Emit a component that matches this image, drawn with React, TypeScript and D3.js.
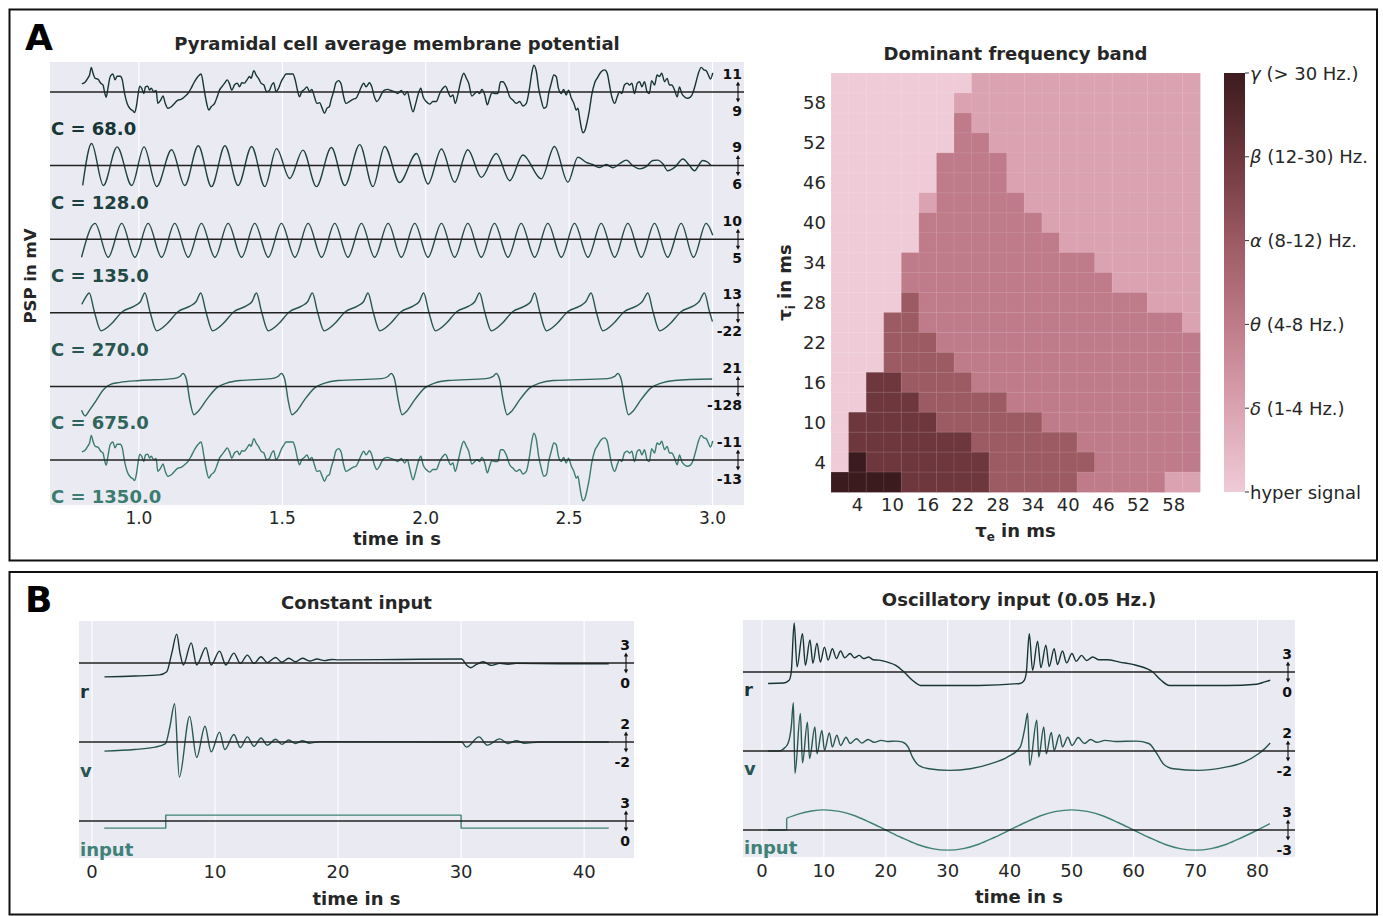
import React from 'react';
import * as d3 from 'd3';

type Pt = [number, number];

const FONT = "'DejaVu Sans', sans-serif";
const INK = '#262626';
const BG = '#eaeaf2';

// ---------------- Panel A, left: membrane potential traces ----------------
// time in s, amplitude in lane units (1 = half the distance between two lanes)
const aTicks = [1.0, 1.5, 2.0, 2.5, 3.0];
const aLaneNames = ['C = 68.0', 'C = 128.0', 'C = 135.0', 'C = 270.0', 'C = 675.0', 'C = 1350.0'];
const aLaneRanges = [['11', '9'], ['9', '6'], ['10', '5'], ['13', '-22'], ['21', '-128'], ['-11', '-13']];
const aLaneColors = ['#173535', '#1d4040', '#224a47', '#285650', '#2f655c', '#3b7c71'];

const noisyTrace: Pt[] = [
  [0.801,0.22],[0.813,0.27],[0.822,0.38],[0.828,0.46],[0.834,0.67],[0.840,0.51],[0.848,0.37],[0.857,0.35],[0.867,0.24],[0.875,0.19],
  [0.880,0.01],[0.886,-0.14],[0.892,0.10],[0.900,0.42],[0.909,0.49],[0.917,0.33],[0.924,0.43],[0.935,0.43],[0.942,0.33],[0.950,-0.04],
  [0.959,-0.31],[0.971,-0.47],[0.979,-0.51],[0.985,-0.56],[0.991,-0.40],[0.997,-0.08],[1.003,0.16],[1.010,0.10],[1.017,-0.04],[1.023,0.14],
  [1.031,0.16],[1.037,0.05],[1.043,0.10],[1.052,0.01],[1.060,0.04],[1.066,-0.31],[1.076,-0.22],[1.084,-0.11],[1.092,-0.31],[1.101,-0.44],
  [1.113,-0.40],[1.124,-0.31],[1.136,-0.22],[1.147,-0.20],[1.159,-0.13],[1.171,-0.04],[1.182,0.10],[1.194,0.28],[1.206,0.42],[1.217,0.49],
  [1.226,0.14],[1.234,-0.22],[1.244,-0.49],[1.252,-0.40],[1.264,-0.31],[1.273,-0.13],[1.281,0.05],[1.289,0.14],[1.299,0.24],[1.308,0.33],
  [1.316,0.22],[1.324,0.05],[1.333,0.19],[1.343,0.24],[1.351,0.14],[1.359,0.25],[1.368,0.24],[1.377,0.33],[1.386,0.42],[1.391,0.37],
  [1.401,0.58],[1.409,0.46],[1.417,0.37],[1.426,0.24],[1.436,0.19],[1.445,0.01],[1.455,0.04],[1.463,0.19],[1.470,0.25],[1.478,0.01],
  [1.487,0.10],[1.496,0.28],[1.505,0.40],[1.513,0.49],[1.525,0.49],[1.537,0.49],[1.545,0.33],[1.554,0.01],[1.560,-0.13],[1.568,0.01],
  [1.577,0.07],[1.586,0.14],[1.595,0.01],[1.603,0.07],[1.612,-0.13],[1.621,-0.31],[1.630,-0.29],[1.639,-0.44],[1.647,-0.58],[1.656,-0.44],
  [1.664,-0.40],[1.670,-0.22],[1.679,0.01],[1.687,0.25],[1.696,0.31],[1.705,0.22],[1.714,-0.13],[1.722,-0.31],[1.734,-0.26],[1.746,-0.20],
  [1.757,-0.17],[1.766,-0.04],[1.775,0.13],[1.784,0.24],[1.792,0.14],[1.804,0.25],[1.812,0.14],[1.821,-0.13],[1.830,-0.26],[1.839,-0.17],
  [1.847,-0.04],[1.856,0.05],[1.868,0.07],[1.879,0.04],[1.891,0.01],[1.902,-0.04],[1.915,0.04],[1.927,-0.08],[1.936,0.01],[1.944,-0.22],
  [1.956,-0.54],[1.964,-0.35],[1.973,-0.08],[1.983,0.10],[1.991,-0.13],[2.002,-0.26],[2.014,-0.33],[2.025,-0.26],[2.037,-0.26],[2.049,-0.04],
  [2.060,0.10],[2.069,0.16],[2.078,0.01],[2.087,-0.13],[2.095,-0.08],[2.103,-0.31],[2.113,-0.04],[2.122,0.28],[2.133,0.51],[2.142,0.37],
  [2.150,0.24],[2.161,-0.11],[2.171,-0.04],[2.180,0.01],[2.188,-0.04],[2.196,0.07],[2.206,-0.08],[2.215,-0.35],[2.223,-0.17],[2.231,-0.02],
  [2.240,-0.04],[2.252,-0.04],[2.261,0.28],[2.269,0.28],[2.281,0.14],[2.293,-0.13],[2.304,-0.22],[2.316,-0.31],[2.328,-0.26],[2.339,-0.38],
  [2.351,-0.31],[2.362,0.10],[2.370,0.51],[2.377,0.73],[2.386,0.55],[2.394,0.10],[2.403,-0.22],[2.412,-0.44],[2.421,-0.40],[2.429,-0.04],
  [2.438,0.24],[2.447,0.46],[2.455,0.42],[2.463,0.10],[2.473,-0.04],[2.481,0.07],[2.490,-0.08],[2.498,0.05],[2.508,-0.17],[2.517,-0.31],
  [2.525,-0.49],[2.531,-0.44],[2.537,-0.71],[2.542,-0.94],[2.548,-1.11],[2.556,-1.03],[2.563,-0.81],[2.571,-0.49],[2.579,-0.08],[2.589,0.24],
  [2.600,0.40],[2.612,0.55],[2.624,0.60],[2.633,0.51],[2.641,0.19],[2.649,-0.13],[2.659,-0.31],[2.668,-0.13],[2.676,0.01],[2.684,-0.04],
  [2.693,0.19],[2.703,0.24],[2.711,0.19],[2.719,0.24],[2.728,-0.04],[2.738,0.24],[2.746,0.28],[2.754,0.14],[2.763,0.28],[2.772,0.01],
  [2.780,-0.04],[2.788,0.31],[2.798,0.19],[2.807,0.46],[2.815,0.42],[2.823,0.51],[2.833,0.28],[2.842,0.37],[2.850,0.19],[2.858,0.19],
  [2.868,0.05],[2.877,-0.13],[2.885,0.14],[2.893,-0.04],[2.902,-0.13],[2.912,-0.17],[2.923,-0.14],[2.931,-0.04],[2.943,0.28],[2.951,0.51],
  [2.961,0.67],[2.970,0.60],[2.978,0.58],[2.986,0.46],[2.993,0.35],[3.001,0.52],
];

const osc128: Pt[] = [
  [0.804,-0.54],[0.835,0.60],[0.876,-0.54],[0.924,0.51],[0.975,-0.54],[1.018,0.51],[1.062,-0.57],[1.114,0.43],[1.160,-0.54],[1.207,0.54],
  [1.253,-0.57],[1.300,0.54],[1.346,-0.54],[1.393,0.52],[1.439,-0.57],[1.480,0.46],[1.526,-0.35],[1.572,0.42],[1.619,-0.57],[1.671,0.49],
  [1.718,-0.54],[1.770,0.57],[1.816,-0.57],[1.857,0.52],[1.909,-0.46],[1.968,0.33],[2.008,-0.50],[2.055,0.45],[2.101,-0.45],[2.147,0.43],
  [2.194,-0.32],[2.246,0.33],[2.293,-0.41],[2.339,0.29],[2.403,-0.36],[2.449,0.52],[2.496,-0.45],[2.531,0.23],[2.560,0.09],[2.582,0.03],
  [2.606,-0.05],[2.630,0.03],[2.653,-0.06],[2.676,0.05],[2.700,0.15],[2.722,0.00],[2.746,-0.09],[2.769,-0.03],[2.792,0.14],[2.809,0.15],
  [2.827,0.05],[2.844,-0.14],[2.868,-0.05],[2.897,0.18],[2.920,0.00],[2.937,-0.14],[2.966,0.14],[2.984,0.09],[2.995,0.00],
];

const osc135: Pt[] = [
  [0.800,-0.49],[0.847,0.43],[0.893,-0.49],[0.940,0.43],[0.986,-0.49],[1.032,0.43],[1.079,-0.49],[1.125,0.43],[1.172,-0.49],[1.218,0.43],
  [1.265,-0.49],[1.311,0.43],[1.358,-0.49],[1.404,0.43],[1.451,-0.49],[1.497,0.43],[1.544,-0.49],[1.590,0.43],[1.637,-0.49],[1.683,0.43],
  [1.729,-0.49],[1.776,0.43],[1.822,-0.49],[1.869,0.43],[1.915,-0.49],[1.962,0.43],[2.008,-0.49],[2.055,0.43],[2.101,-0.49],[2.147,0.43],
  [2.194,-0.49],[2.240,0.43],[2.287,-0.49],[2.333,0.43],[2.380,-0.49],[2.426,0.43],[2.473,-0.49],[2.519,0.43],[2.566,-0.49],[2.612,0.43],
  [2.659,-0.49],[2.705,0.43],[2.752,-0.49],[2.798,0.43],[2.844,-0.49],[2.891,0.43],[2.934,-0.49],[2.978,0.43],[3.001,0.11],
];

const saw270: Pt[] = [
  [0.801,0.23],[0.812,0.39],
  [0.827,0.54],[0.844,0.05],[0.868,-0.49],[0.904,-0.30],[0.942,0.03],[0.984,0.18],[1.005,0.30],
  [1.021,0.54],[1.038,0.05],[1.062,-0.49],[1.098,-0.30],[1.136,0.03],[1.178,0.18],[1.199,0.30],
  [1.216,0.54],[1.233,0.05],[1.257,-0.49],[1.293,-0.30],[1.331,0.03],[1.373,0.18],[1.394,0.30],
  [1.410,0.54],[1.427,0.05],[1.451,-0.49],[1.487,-0.30],[1.525,0.03],[1.567,0.18],[1.588,0.30],
  [1.605,0.54],[1.622,0.05],[1.646,-0.49],[1.682,-0.30],[1.720,0.03],[1.762,0.18],[1.783,0.30],
  [1.799,0.54],[1.816,0.05],[1.840,-0.49],[1.876,-0.30],[1.914,0.03],[1.956,0.18],[1.977,0.30],
  [1.993,0.54],[2.010,0.05],[2.034,-0.49],[2.070,-0.30],[2.108,0.03],[2.150,0.18],[2.171,0.30],
  [2.188,0.54],[2.205,0.05],[2.229,-0.49],[2.265,-0.30],[2.303,0.03],[2.345,0.18],[2.366,0.30],
  [2.380,0.54],[2.397,0.05],[2.421,-0.49],[2.457,-0.30],[2.495,0.03],[2.537,0.18],[2.558,0.30],
  [2.577,0.54],[2.594,0.05],[2.618,-0.49],[2.654,-0.30],[2.692,0.03],[2.734,0.18],[2.755,0.30],
  [2.775,0.54],[2.792,0.05],[2.816,-0.49],[2.852,-0.30],[2.890,0.03],[2.932,0.18],[2.953,0.30],
  [2.972,0.54],[2.989,0.05],[3.000,-0.24],
];

const slow675: Pt[] = [
  [0.800,-0.65],[0.812,-0.80],[0.829,-0.63],[0.853,-0.36],[0.876,-0.09],[0.899,0.05],[0.934,0.11],[1.003,0.16],[1.120,0.21],
  [1.143,0.27],[1.154,0.35],[1.166,0.18],[1.177,-0.36],[1.192,-0.77],[1.206,-0.68],[1.236,-0.36],[1.271,-0.04],[1.306,0.09],[1.352,0.16],
  [1.462,0.21],[1.485,0.27],[1.497,0.35],[1.509,0.18],[1.520,-0.36],[1.534,-0.77],[1.549,-0.68],[1.578,-0.36],[1.613,-0.04],[1.648,0.09],[1.694,0.16],
  [1.846,0.21],[1.868,0.27],[1.880,0.35],[1.892,0.18],[1.904,-0.36],[1.918,-0.77],[1.933,-0.68],[1.962,-0.36],[1.997,-0.04],[2.031,0.09],[2.078,0.16],
  [2.211,0.21],[2.235,0.27],[2.246,0.35],[2.258,0.18],[2.270,-0.36],[2.284,-0.77],[2.299,-0.68],[2.328,-0.36],[2.363,-0.04],[2.397,0.09],[2.444,0.16],
  [2.635,0.21],[2.659,0.27],[2.670,0.35],[2.682,0.18],[2.694,-0.36],[2.707,-0.77],[2.722,-0.68],[2.751,-0.36],[2.786,-0.04],[2.821,0.09],[2.867,0.16],[2.999,0.20],
];

const aTraces = [noisyTrace, osc128, osc135, saw270, slow675, noisyTrace];

// ---------------- Panel A, right: dominant frequency band ----------------
const tauValues = [1, 4, 7, 10, 13, 16, 19, 22, 25, 28, 31, 34, 37, 40, 43, 46, 49, 52, 55, 58, 61];
const tauTicks = [4, 10, 16, 22, 28, 34, 40, 46, 52, 58];
// band index per cell; rows go from tau_i = 61 (top) down to tau_i = 1, columns tau_e = 1 .. 61
const bandRows = [
  '000000001111111111111',
  '000000011111111111111',
  '000000021111111111111',
  '000000022111111111111',
  '000000222211111111111',
  '000000222211111111111',
  '000001222221111111111',
  '000002222222111111111',
  '000002222222211111111',
  '000022222222222111111',
  '000022222222222211111',
  '000032222222222222111',
  '000332222222222222221',
  '000333222222222222222',
  '000333322222222222222',
  '004433332222222222222',
  '004443333322222222222',
  '044444333333222222222',
  '044444443333332222222',
  '054444444333333222222',
  '555544444333332222211',
];
const bandColors = ['#efcbd7', '#dba2b1', '#bf7b89', '#9c5a63', '#6e373d', '#3c1b1e'];
const bandGreek = ['', 'δ', 'θ', 'α', 'β', 'γ'];
const bandText = ['hyper signal', ' (1-4 Hz.)', ' (4-8 Hz.)', ' (8-12) Hz.', ' (12-30) Hz.', ' (> 30 Hz.)'];

// ---------------- Panel B: constant and oscillatory input ----------------
const bConstTicks = [0, 10, 20, 30, 40];
const bOscTicks = [0, 10, 20, 30, 40, 50, 60, 70, 80];
const bLaneNames = ['r', 'v', 'input'];
const bLaneColors = ['#173535', '#285650', '#3f8177'];
const bConstRanges = [['3', '0'], ['2', '-2'], ['3', '0']];
const bOscRanges = [['3', '0'], ['2', '-2'], ['3', '-3']];

const constR: Pt[] = [
  [1.02,-0.35],[3.46,-0.33],[5.48,-0.30],[6.08,-0.22],[6.49,0.25],[6.89,0.73],[7.16,0.25],[7.43,-0.05],[8.07,0.51],[8.51,-0.05],
  [9.26,0.39],[9.69,-0.05],[10.37,0.30],[10.88,-0.05],[11.54,0.25],[12.06,-0.01],[12.63,0.20],[13.17,-0.01],[13.74,0.16],[14.25,0.01],
  [14.93,0.14],[15.43,0.02],[16.0,0.12],[16.54,0.03],[17.11,0.12],[17.69,0.05],[18.29,0.10],[18.9,0.06],[19.48,0.09],[20.05,0.08],
  [25.0,0.09],[30.04,0.10],[30.44,-0.05],[30.78,-0.12],[31.28,-0.03],[31.79,0.03],[32.46,-0.06],[33.14,-0.01],[33.82,-0.03],[34.47,-0.01],
  [38.0,-0.02],[42.0,-0.02],
];
const constV: Pt[] = [
  [1.02,-0.23],[3.46,-0.19],[5.14,-0.13],[5.98,-0.04],[6.33,0.38],[6.72,0.97],[7.10,-0.89],[7.94,0.65],[8.51,-0.39],[9.19,0.40],
  [9.69,-0.25],[10.37,0.25],[10.80,-0.19],[11.54,0.19],[12.06,-0.14],[12.63,0.13],[13.17,-0.11],[13.74,0.10],[14.25,-0.08],[14.93,0.07],
  [15.43,-0.06],[16.0,0.05],[16.54,-0.04],[17.11,0.03],[17.69,-0.03],[18.54,0.01],[30.04,0.0],[30.44,-0.13],[31.46,0.13],[32.13,-0.08],
  [33.14,0.08],[33.82,-0.04],[34.49,0.03],[35.16,-0.03],[36.4,0.0],[42.0,0.0],
];
const constInput: Pt[] = [[1, -0.18], [6, -0.18], [6, 0.15], [30, 0.15], [30, -0.18], [42, -0.18]];

const oscR: Pt[] = [
  [1.0,-0.29],[3.53,-0.28],[4.40,-0.21],[4.74,0.0],[5.21,1.24],[5.68,0.13],[6.55,0.97],[7.02,0.17],[7.76,0.81],[8.23,0.22],
  [8.89,0.73],[9.44,0.25],[10.10,0.63],[10.69,0.30],[11.37,0.59],[12.03,0.34],[12.71,0.53],[13.37,0.36],[14.24,0.47],[14.92,0.36],
  [15.73,0.42],[16.39,0.34],[17.26,0.38],[17.94,0.31],[18.94,0.30],[20.27,0.25],[21.61,0.17],[22.95,0.0],[24.29,-0.21],[25.63,-0.34],
  [28.31,-0.34],[35.0,-0.34],[41.69,-0.29],[42.35,-0.21],[42.69,0.0],[43.16,0.97],[43.69,0.04],[44.5,0.78],[45.03,0.11],[45.84,0.68],
  [46.37,0.14],[47.18,0.59],[47.71,0.19],[48.52,0.53],[49.18,0.23],[50.05,0.47],[50.73,0.27],[51.6,0.42],[52.4,0.29],[53.4,0.38],
  [54.4,0.31],[55.74,0.31],[57.74,0.25],[60.42,0.17],[63.1,0.0],[64.44,-0.21],[65.77,-0.34],[68.45,-0.34],[75.15,-0.34],[79.84,-0.31],
  [81.18,-0.25],[82.05,-0.21],
];
const oscV: Pt[] = [
  [1.0,0.0],[2.87,0.0],[3.53,0.06],[4.21,0.19],[4.74,0.61],[5.08,1.22],[5.34,-0.57],[6.21,0.95],[6.55,-0.30],[7.35,0.73],
  [7.69,-0.19],[8.56,0.61],[8.89,-0.07],[9.69,0.52],[10.10,0.02],[10.90,0.46],[11.37,0.10],[12.10,0.40],[12.71,0.14],[13.58,0.35],
  [14.24,0.19],[15.26,0.31],[16.13,0.20],[17.13,0.29],[18.13,0.22],[19.27,0.27],[20.27,0.24],[21.61,0.25],[22.61,0.23],[23.61,0.10],
  [24.29,-0.15],[25.29,-0.36],[26.97,-0.45],[30.32,-0.49],[33.66,-0.45],[37.0,-0.32],[39.68,-0.15],[41.69,0.10],[42.48,0.61],[42.89,0.96],
  [43.23,-0.36],[44.37,0.78],[44.69,-0.15],[45.5,0.61],[45.9,-0.07],[46.71,0.47],[47.18,0.02],[48.05,0.41],[48.52,0.10],[49.39,0.35],
  [50.05,0.14],[51.06,0.34],[52.06,0.19],[53.06,0.29],[54.06,0.22],[55.4,0.27],[57.08,0.24],[60.42,0.25],[62.44,0.19],[63.77,-0.07],
  [64.77,-0.32],[66.45,-0.45],[70.47,-0.49],[74.48,-0.42],[77.82,-0.28],[80.16,-0.07],[81.18,0.06],[82.05,0.20],
];
const oscInputOff: Pt[] = [[1, 0], [4, 0], [4, 0.30]];
const oscInputWave: Pt[] = [
  [4,0.30],[6,0.41],[8,0.48],[10,0.51],[12.5,0.47],[15,0.36],[17.5,0.19],[20,0.0],[22.5,-0.19],[25,-0.36],
  [27.5,-0.47],[30,-0.51],[32.5,-0.47],[35,-0.36],[37.5,-0.19],[40,0.0],[42.5,0.19],[45,0.36],[47.5,0.47],[50,0.51],
  [52.5,0.47],[55,0.36],[57.5,0.19],[60,0.0],[62.5,-0.19],[65,-0.36],[67.5,-0.47],[70,-0.51],[72.5,-0.47],[75,-0.36],
  [77.5,-0.19],[80,0.0],[82,0.16],
];

// ---------------------------------------------------------------------------

interface Segment { pts: Pt[]; smooth: boolean }
interface LaneSpec { name: string; color: string; hi: string; lo: string; segments: Segment[] }

function RangeMark({ x, base, hi, lo, hiDy, loDy }: { x: number; base: number; hi: string; lo: string; hiDy: number; loDy: number }) {
  const ax = x - 4;
  return (
    <g>
      <text x={x} y={base + hiDy} textAnchor="end" fontSize={14} fontWeight="bold" fill="#111">{hi}</text>
      <text x={x} y={base + loDy} textAnchor="end" fontSize={14} fontWeight="bold" fill="#111">{lo}</text>
      <line x1={ax} x2={ax} y1={base - 8} y2={base + 8} stroke="#111" strokeWidth={1.1} />
      <path d={`M${ax - 2.2},${base - 6.5}L${ax},${base - 10.5}L${ax + 2.2},${base - 6.5}Z`} fill="#111" />
      <path d={`M${ax - 2.2},${base + 6.5}L${ax},${base + 10.5}L${ax + 2.2},${base + 6.5}Z`} fill="#111" />
    </g>
  );
}

function TracePanel(p: {
  left: number; right: number; top: number; bottom: number;
  domain: [number, number]; ticks: number[]; fmt: (v: number) => string; tickSize: number; tickY: number;
  base0: number; step: number; half: number; lanes: LaneSpec[];
  nameDy: number; hiDy: number; loDy: number; rangeX: number;
  title: string; titleY: number; xlabelY: number;
}) {
  const x = d3.scaleLinear().domain(p.domain).range([p.left, p.right]);
  const laneY = d3.scaleLinear().domain([0, 1]).range([p.base0, p.base0 + p.step]);
  const cx = (p.left + p.right) / 2;
  return (
    <g>
      <rect x={p.left} y={p.top} width={p.right - p.left} height={p.bottom - p.top} fill={BG} />
      {p.ticks.map(t => (
        <line key={t} x1={x(t)} x2={x(t)} y1={p.top} y2={p.bottom} stroke="#fff" strokeWidth={1.1} />
      ))}
      {p.lanes.map((lane, i) => {
        const base = laneY(i);
        const y = d3.scaleLinear().domain([-1, 1]).range([base + p.half, base - p.half]);
        return (
          <g key={lane.name + i}>
            {lane.segments.map((s, j) => {
              const gen = d3.line<Pt>().x(d => x(d[0])).y(d => y(d[1]))
                .curve(s.smooth ? d3.curveMonotoneX : d3.curveLinear);
              return <path key={j} d={gen(s.pts) || ''} fill="none" stroke={lane.color} strokeWidth={1.4} strokeLinejoin="round" />;
            })}
            <line x1={p.left} x2={p.right} y1={base} y2={base} stroke="#222" strokeWidth={1.5} />
            <text x={p.left + 1} y={base + p.nameDy} fontSize={18} fontWeight="bold" fill={lane.color}>{lane.name}</text>
            <RangeMark x={p.rangeX} base={base} hi={lane.hi} lo={lane.lo} hiDy={p.hiDy} loDy={p.loDy} />
          </g>
        );
      })}
      {p.ticks.map(t => (
        <text key={'l' + t} x={x(t)} y={p.tickY} textAnchor="middle" fontSize={p.tickSize} fill={INK}>{p.fmt(t)}</text>
      ))}
      <text x={cx} y={p.titleY} textAnchor="middle" fontSize={18} fontWeight="bold" fill={INK}>{p.title}</text>
      <text x={cx} y={p.xlabelY} textAnchor="middle" fontSize={18} fontWeight="bold" fill={INK}>time in s</text>
    </g>
  );
}

function BandHeatmap() {
  const left = 831, right = 1200, top = 73, bottom = 492;
  const x = d3.scaleBand<number>().domain(tauValues).range([left, right]);
  const y = d3.scaleBand<number>().domain(tauValues).range([bottom, top]);
  const bw = x.bandwidth(), bh = y.bandwidth();
  const n = tauValues.length;
  const cbLeft = 1224, cbRight = 1245;
  const cbY = d3.scaleLinear().domain([0, bandColors.length - 1]).range([bottom, top]);
  return (
    <g>
      <defs>
        <linearGradient id="bandGrad" x1="0" y1="1" x2="0" y2="0">
          {bandColors.map((c, k) => (
            <stop key={k} offset={k / (bandColors.length - 1)} stopColor={c} />
          ))}
        </linearGradient>
      </defs>
      {bandRows.map((row, r) =>
        row.split('').map((ch, c) => (
          <rect key={r + '-' + c} x={x(tauValues[c])} y={y(tauValues[n - 1 - r])} width={bw + 0.4} height={bh + 0.4}
            fill={bandColors[+ch]} />
        ))
      )}
      {tauValues.map(t => (
        <g key={'g' + t} stroke="#fff" strokeOpacity={0.14} strokeWidth={0.8}>
          <line x1={x(t)} x2={x(t)} y1={top} y2={bottom} />
          <line x1={left} x2={right} y1={y(t)} y2={y(t)} />
        </g>
      ))}
      {tauTicks.map(t => (
        <text key={'x' + t} x={(x(t) || 0) + bw / 2} y={511} textAnchor="middle" fontSize={18} fill={INK}>{t}</text>
      ))}
      {tauTicks.map(t => (
        <text key={'y' + t} x={826} y={(y(t) || 0) + bh / 2 + 6.5} textAnchor="end" fontSize={18} fill={INK}>{t}</text>
      ))}
      <text x={(left + right) / 2} y={60} textAnchor="middle" fontSize={18} fontWeight="bold" fill={INK}>Dominant frequency band</text>
      <text x={(left + right) / 2} y={537} textAnchor="middle" fontSize={18} fontWeight="bold" fill={INK}>
        τ<tspan fontSize={12} dy={4}>e</tspan><tspan dy={-4}> in ms</tspan>
      </text>
      <text transform={`translate(791,${(top + bottom) / 2}) rotate(-90)`} textAnchor="middle" fontSize={18} fontWeight="bold" fill={INK}>
        τ<tspan fontSize={12} dy={4}>i</tspan><tspan dy={-4}> in ms</tspan>
      </text>
      <rect x={cbLeft} y={top} width={cbRight - cbLeft} height={bottom - top} fill="url(#bandGrad)" />
      {bandText.map((t, k) => (
        <g key={'cb' + k}>
          <line x1={cbRight} x2={cbRight + 4} y1={cbY(k)} y2={cbY(k)} stroke="#333" strokeWidth={1} />
          <text x={cbRight + 5} y={cbY(k) + 6.5} fontSize={18} fill={INK}>
            {bandGreek[k] && <tspan fontStyle="italic">{bandGreek[k]}</tspan>}{t}
          </text>
        </g>
      ))}
    </g>
  );
}

export default function App() {
  const aLanes: LaneSpec[] = aLaneNames.map((name, i) => ({
    name, color: aLaneColors[i], hi: aLaneRanges[i][0], lo: aLaneRanges[i][1],
    segments: [{ pts: aTraces[i], smooth: true }],
  }));
  const constLanes: LaneSpec[] = [
    { name: bLaneNames[0], color: bLaneColors[0], hi: bConstRanges[0][0], lo: bConstRanges[0][1], segments: [{ pts: constR, smooth: true }] },
    { name: bLaneNames[1], color: bLaneColors[1], hi: bConstRanges[1][0], lo: bConstRanges[1][1], segments: [{ pts: constV, smooth: true }] },
    { name: bLaneNames[2], color: bLaneColors[2], hi: bConstRanges[2][0], lo: bConstRanges[2][1], segments: [{ pts: constInput, smooth: false }] },
  ];
  const oscLanes: LaneSpec[] = [
    { name: bLaneNames[0], color: bLaneColors[0], hi: bOscRanges[0][0], lo: bOscRanges[0][1], segments: [{ pts: oscR, smooth: true }] },
    { name: bLaneNames[1], color: bLaneColors[1], hi: bOscRanges[1][0], lo: bOscRanges[1][1], segments: [{ pts: oscV, smooth: true }] },
    { name: bLaneNames[2], color: bLaneColors[2], hi: bOscRanges[2][0], lo: bOscRanges[2][1],
      segments: [{ pts: oscInputOff, smooth: false }, { pts: oscInputWave, smooth: true }] },
  ];

  return (
    <svg width={1383} height={916} viewBox="0 0 1383 916"
      style={{ position: 'absolute', left: 0, top: 0, background: '#fff', fontFamily: FONT }}>
      <rect x={0} y={0} width={1383} height={916} fill="#fff" />
      <rect x={9.5} y={9.5} width={1367.5} height={551} fill="none" stroke="#111" strokeWidth={2} />
      <rect x={9.5} y={572} width={1367.5} height={342.5} fill="none" stroke="#111" strokeWidth={2} />
      <text x={25} y={50} fontSize={36} fontWeight="bold" fill="#000">A</text>
      <text x={25} y={612} fontSize={36} fontWeight="bold" fill="#000">B</text>

      <TracePanel left={50} right={744} top={62} bottom={505}
        domain={[0.69, 3.11]} ticks={aTicks} fmt={v => v.toFixed(1)} tickSize={17} tickY={524}
        base0={92} step={73.6} half={36.8} lanes={aLanes}
        nameDy={43} hiDy={-13.5} loDy={23.5} rangeX={742}
        title="Pyramidal cell average membrane potential" titleY={49.5} xlabelY={545} />
      <text transform="translate(36,276) rotate(-90)" textAnchor="middle" fontSize={16.5} fontWeight="bold" fill={INK}>PSP in mV</text>

      <BandHeatmap />

      <TracePanel left={79} right={634} top={621} bottom={858}
        domain={[-1.05, 44.05]} ticks={bConstTicks} fmt={v => String(v)} tickSize={18} tickY={878}
        base0={663} step={79} half={39.5} lanes={constLanes}
        nameDy={35} hiDy={-13} loDy={24.5} rangeX={630}
        title="Constant input" titleY={609} xlabelY={905} />

      <TracePanel left={743} right={1295} top={620} bottom={857}
        domain={[-3.05, 86.05]} ticks={bOscTicks} fmt={v => String(v)} tickSize={18} tickY={877}
        base0={672} step={79} half={39.5} lanes={oscLanes}
        nameDy={24} hiDy={-13} loDy={24.5} rangeX={1292}
        title="Oscillatory input (0.05 Hz.)" titleY={606} xlabelY={903} />
    </svg>
  );
}
